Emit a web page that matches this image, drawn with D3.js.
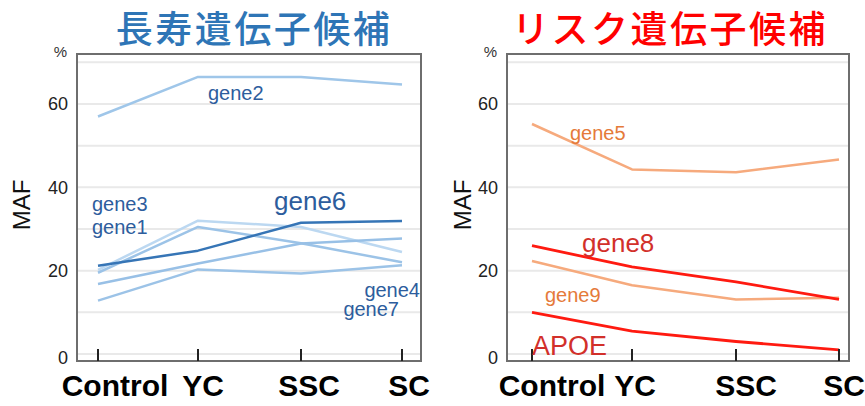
<!DOCTYPE html>
<html><head><meta charset="utf-8">
<script src="https://cdn.jsdelivr.net/npm/d3@7"></script>
<style>body{margin:0;background:#fff}svg{display:block}</style>
</head><body>
<svg id="c" width="865" height="406"></svg>
<script>
// ---- data ----
const categories = ["Control", "YC", "SSC", "SC"];
const yTicks = [0, 20, 40, 60];
const gridValues = [0, 10, 20, 30, 40, 50, 60, 70];

const longevityTitle = "長寿遺伝子候補";
const riskTitle = "リスク遺伝子候補";

const gene2 = [57, 66.5, 66.5, 64.7];
const gene6 = [21.2, 24.8, 31.5, 31.9];
const gene3 = [20.2, 32, 30.5, 24.5];
const gene1 = [19.5, 30.5, 26.6, 22];
const gene4 = [16.8, 21.7, 26.5, 27.7];
const gene7 = [12.8, 20.3, 19.3, 21.3];

const gene5 = [55.2, 44.3, 43.6, 46.7];
const gene8 = [26, 20.9, 17.3, 13.1];
const gene9 = [22.3, 16.5, 13.1, 13.5];
const apoe  = [10, 5.5, 3, 1];

// ---- layout ----
const svg = d3.select("#c");
const panels = [
  {x0: 77, x1: 421, title: longevityTitle, titleColor: "#2e75b6", titleX: 254,
   tickX: [98, 198, 301, 402], labelDx: [17, 5, 8, 7], mafX: 22,
   series: [
     {v: gene2, c: "#9fc6e9", w: 2.5},
     {v: gene3, c: "#bcd8f1", w: 2.5},
     {v: gene1, c: "#9cc3e7", w: 2.5},
     {v: gene4, c: "#98c0e6", w: 2.5},
     {v: gene7, c: "#9cc3e7", w: 2.5},
     {v: gene6, c: "#3675b6", w: 2.5}
   ],
   labels: [
     {t: "gene2", x: 208, y: 100, s: 20, c: "#2d5d9d", a: "start"},
     {t: "gene3", x: 92, y: 211, s: 20, c: "#2d5d9d", a: "start"},
     {t: "gene1", x: 92, y: 234, s: 20, c: "#2d5d9d", a: "start"},
     {t: "gene6", x: 274, y: 210, s: 26, c: "#2d5d9d", a: "start"},
     {t: "gene4", x: 420, y: 297, s: 20, c: "#2d5d9d", a: "end"},
     {t: "gene7", x: 399, y: 316, s: 20, c: "#2d5d9d", a: "end"}
   ]},
  {x0: 507, x1: 849, title: riskTitle, titleColor: "#ff0000", titleX: 670,
   tickX: [532, 632, 736, 839], labelDx: [20, 3, 10, 5], mafX: 463,
   series: [
     {v: gene5, c: "#f6aa7d", w: 2.5},
     {v: gene9, c: "#f6aa7d", w: 2.5},
     {v: gene8, c: "#ff1a10", w: 2.8},
     {v: apoe,  c: "#ff1a10", w: 2.8}
   ],
   labels: [
     {t: "gene5", x: 570, y: 140, s: 20, c: "#e57a3a", a: "start"},
     {t: "gene8", x: 582, y: 252, s: 26, c: "#d2302a", a: "start"},
     {t: "gene9", x: 545, y: 302, s: 20, c: "#e57a3a", a: "start"},
     {t: "APOE", x: 532, y: 355, s: 27, c: "#d2302a", a: "start"}
   ]}
];

const y = d3.scaleLinear().domain([0, 60]).range([354, 104]);
const frameTop = 54, frameBottom = 361;

panels.forEach(p => {
  const g = svg.append("g");
  const x = d3.scaleOrdinal().domain(categories).range(p.tickX);

  // title
  g.append("text").attr("x", p.titleX).attr("y", 43)
    .attr("text-anchor", "middle")
    .attr("font-family", "'Noto Sans CJK JP'")
    .attr("font-weight", 500)
    .attr("font-size", 37)
    .attr("letter-spacing", 2.5)
    .attr("fill", p.titleColor)
    .text(p.title);

  // gridlines
  g.selectAll(".grid").data(gridValues).join("line")
    .attr("x1", p.x0).attr("x2", p.x1)
    .attr("y1", d => y(d)).attr("y2", d => y(d))
    .attr("stroke", "#e9e9e9").attr("stroke-width", 2);

  // y tick labels
  g.selectAll(".yt").data(yTicks).join("text")
    .attr("x", p.x0 - 9).attr("y", d => y(d) + (d === 0 ? 4 : 0))
    .attr("dy", "0.35em")
    .attr("text-anchor", "end")
    .attr("font-family", "'Liberation Sans', Arial, sans-serif")
    .attr("font-size", 18).attr("fill", "#222")
    .text(d => d);

  // percent sign
  g.append("text").attr("x", p.x0 - 10).attr("y", 57)
    .attr("text-anchor", "end")
    .attr("font-family", "'Liberation Sans', Arial, sans-serif")
    .attr("font-size", 15).attr("fill", "#333").text("%");

  // MAF label
  g.append("text")
    .attr("transform", `translate(${p.mafX + 8},205) rotate(-90)`)
    .attr("text-anchor", "middle")
    .attr("font-family", "'Liberation Sans', Arial, sans-serif")
    .attr("font-size", 24).attr("fill", "#111").text("MAF");

  // lines
  const line = d3.line().x((d, i) => x(categories[i])).y(d => y(d));
  p.series.forEach(s => {
    g.append("path").datum(s.v).attr("d", line)
      .attr("fill", "none").attr("stroke", s.c)
      .attr("stroke-width", s.w).attr("stroke-linejoin", "round");
  });

  // frame
  g.append("rect").attr("x", p.x0).attr("y", frameTop)
    .attr("width", p.x1 - p.x0).attr("height", frameBottom - frameTop)
    .attr("fill", "none").attr("stroke", "#6e6e6e").attr("stroke-width", 2);

  // x ticks inside
  g.selectAll(".xt").data(categories).join("line")
    .attr("x1", d => x(d)).attr("x2", d => x(d))
    .attr("y1", frameBottom).attr("y2", frameBottom - 12)
    .attr("stroke", "#222").attr("stroke-width", 2);

  // category labels
  g.selectAll(".xl").data(categories).join("text")
    .attr("x", (d, i) => x(d) + p.labelDx[i]).attr("y", 396)
    .attr("text-anchor", "middle")
    .attr("font-family", "'Liberation Sans', Arial, sans-serif")
    .attr("font-weight", "bold").attr("font-size", 30).attr("fill", "#000")
    .text(d => d);

  // gene labels
  g.selectAll(".gl").data(p.labels).join("text")
    .attr("x", d => d.x).attr("y", d => d.y)
    .attr("text-anchor", d => d.a)
    .attr("font-family", "'Liberation Sans', Arial, sans-serif")
    .attr("font-size", d => d.s).attr("fill", d => d.c)
    .text(d => d.t);
});
</script>
</body></html>
